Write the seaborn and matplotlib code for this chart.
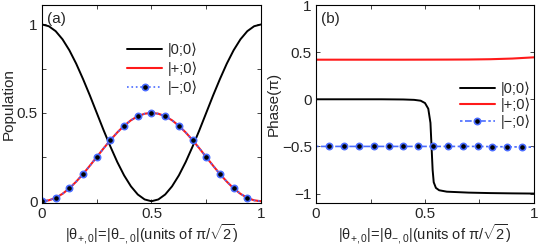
import numpy as np
import pandas as pd
import seaborn as sns
import matplotlib.pyplot as plt
from matplotlib.ticker import MultipleLocator

# panel (a): populations vs theta (units of pi/sqrt2), sampled every 1/32
x_a = [i / 32 for i in range(33)]
pop_00 = [1.000, 0.990, 0.962, 0.916, 0.854, 0.778, 0.691, 0.598, 0.500,
          0.402, 0.309, 0.222, 0.146, 0.084, 0.038, 0.010, 0.000,
          0.010, 0.038, 0.084, 0.146, 0.222, 0.309, 0.402, 0.500,
          0.598, 0.691, 0.778, 0.854, 0.916, 0.962, 0.990, 1.000]
pop_plus = [0.000, 0.005, 0.019, 0.042, 0.073, 0.111, 0.154, 0.201, 0.250,
            0.299, 0.346, 0.389, 0.427, 0.458, 0.481, 0.495, 0.500,
            0.495, 0.481, 0.458, 0.427, 0.389, 0.346, 0.299, 0.250,
            0.201, 0.154, 0.111, 0.073, 0.042, 0.019, 0.005, 0.000]
pop_minus = list(pop_plus)

# panel (b): phases (units of pi)
x_b_00 = [0.0, 0.1, 0.2, 0.3, 0.4, 0.45, 0.48, 0.5, 0.515, 0.525, 0.53, 0.535,
          0.54, 0.55, 0.565, 0.6, 0.7, 0.8, 0.9, 1.0]
ph_00 = [0.0, 0.0, 0.0, 0.0, -0.002, -0.006, -0.015, -0.04, -0.1, -0.25, -0.5,
         -0.75, -0.88, -0.94, -0.965, -0.98, -0.99, -0.995, -0.998, -1.0]
x_b_plus = [0.0, 0.2, 0.4, 0.6, 0.7, 0.8, 0.9, 1.0]
ph_plus = [0.420, 0.420, 0.420, 0.421, 0.422, 0.425, 0.432, 0.445]
x_b_minus = [0.0, 0.061, 0.129, 0.197, 0.265, 0.333, 0.401, 0.469, 0.537,
             0.605, 0.673, 0.741, 0.809, 0.877, 0.945, 1.0]
ph_minus = [-0.5, -0.5, -0.5, -0.5, -0.5, -0.5, -0.5, -0.5, -0.5,
            -0.5, -0.5, -0.5, -0.502, -0.504, -0.506, -0.508]

labels = ['|0;0⟩', '|+;0⟩', '|−;0⟩']
xlabel = r'$|\theta_{+,0}|$=$|\theta_{-,0}|$(units of $\pi/\sqrt{2}$)'

sns.set_style('ticks')
plt.rcParams['font.family'] = ['Liberation Sans', 'DejaVu Sans']
plt.rcParams['mathtext.fontset'] = 'custom'
plt.rcParams['mathtext.rm'] = 'Liberation Sans'
plt.rcParams['mathtext.default'] = 'regular'
plt.rcParams['axes.unicode_minus'] = True

BLACK = 'black'
RED = '#ff1a1a'
BLUE = '#4a6cff'

fig = plt.figure(figsize=(5.39, 2.48), dpi=100)
ax1 = fig.add_axes([0.0779, 0.1815, 0.4063, 0.7983])
ax2 = fig.add_axes([0.5863, 0.1815, 0.4044, 0.7983])

# (a)
sns.lineplot(x=x_a, y=pop_00, ax=ax1, color=BLACK, lw=1.4, label=labels[0])
sns.lineplot(x=x_a, y=pop_plus, ax=ax1, color=RED, lw=1.5, label=labels[1])
sns.lineplot(x=x_a, y=pop_minus, ax=ax1, color=BLUE, lw=1.2, linestyle=':',
             marker='o', markersize=4.5, markerfacecolor='black',
             markeredgecolor=BLUE, markeredgewidth=1.2,
             markevery=list(range(0, 32, 2)), label=labels[2])
ax1.set_xlim(0, 1)
ax1.set_ylim(-0.01, 1.11)
ax1.xaxis.set_minor_locator(MultipleLocator(0.25))
ax1.yaxis.set_minor_locator(MultipleLocator(0.25))
ax1.set_xticks([0, 0.5, 1])
ax1.set_xticklabels(['0', '0.5', '1'])
ax1.set_yticks([0, 0.5, 1])
ax1.set_yticklabels(['0', '0.5', '1'])
ax1.set_ylabel('Population', fontsize=11, labelpad=1)
ax1.set_xlabel(xlabel, fontsize=10.5, labelpad=1)
ax1.text(0.025, 0.965, '(a)', transform=ax1.transAxes, fontsize=11,
         ha='left', va='top')
ax1.legend(loc='upper left', bbox_to_anchor=(0.33, 0.875), frameon=False,
           fontsize=10.5, handlelength=2.4, handletextpad=0.4,
           labelspacing=0.3, numpoints=1)

# (b)
sns.lineplot(x=x_b_00, y=ph_00, ax=ax2, color=BLACK, lw=1.4, label=labels[0])
sns.lineplot(x=x_b_plus, y=ph_plus, ax=ax2, color=RED, lw=1.5, label=labels[1])
sns.lineplot(x=x_b_minus, y=ph_minus, ax=ax2, color=BLUE, lw=1.2,
             linestyle=(0, (1.5, 1.5, 4, 1.5)),
             marker='o', markersize=4.5, markerfacecolor='black',
             markeredgecolor=BLUE, markeredgewidth=1.2,
             markevery=list(range(1, 15)), label=labels[2])
ax2.set_xlim(0, 1)
ax2.set_ylim(-1.1, 1.0)
ax2.xaxis.set_minor_locator(MultipleLocator(0.25))
ax2.set_xticks([0, 0.5, 1])
ax2.set_xticklabels(['0', '0.5', '1'])
ax2.set_yticks([-1, -0.5, 0, 0.5, 1])
ax2.set_yticklabels(['−1', '−0.5', '0', '0.5', '1'])
ax2.set_ylabel('Phase(π)', fontsize=11, labelpad=1)
ax2.set_xlabel(xlabel, fontsize=10.5, labelpad=1)
ax2.text(0.025, 0.965, '(b)', transform=ax2.transAxes, fontsize=11,
         ha='left', va='top')
ax2.legend(loc='upper left', bbox_to_anchor=(0.6, 0.68), frameon=False,
           fontsize=10.5, handlelength=2.4, handletextpad=0.4,
           labelspacing=0.15, numpoints=1)

for ax in (ax1, ax2):
    ax.tick_params(which='both', direction='in', top=True, right=True,
                   length=3, width=0.6, labelsize=11, pad=3)
    for s in ax.spines.values():
        s.set_visible(True)
        s.set_linewidth(0.8)
        s.set_color('black')

fig.savefig('out.png', dpi=100)
